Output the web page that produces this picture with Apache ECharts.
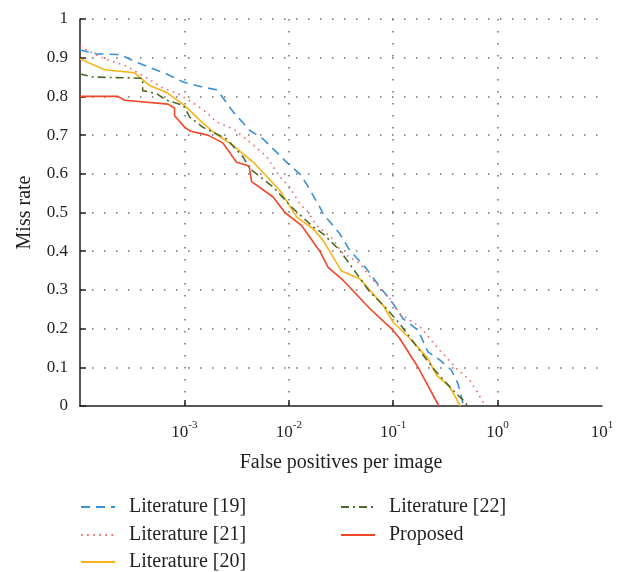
<!DOCTYPE html>
<html>
<head>
<meta charset="utf-8">
<script src="https://cdn.jsdelivr.net/npm/echarts@6/dist/echarts.min.js"></script>
<style>html,body{margin:0;padding:0;background:#fff;}#c{width:624px;height:572px;}</style>
</head>
<body>
<div id="c"></div>
<script>
// Literature [19] (blue dashed)
var lit19X = [1e-4, 1.44e-4, 2.41e-4, 3.49e-4, 6.76e-4, 9.75e-4, 1.5e-3, 2.03e-3, 2.19e-3, 2.93e-3, 4.24e-3, 5.68e-3, 7.62e-3, 9.5e-3, 1.27e-2, 1.48e-2, 1.98e-2, 2.13e-2, 3.08e-2, 3.84e-2, 5.54e-2, 7.43e-2, 9.95e-2, 0.124, 0.173, 0.215, 0.279, 0.36, 0.417, 0.459, 0.468];
var lit19Y = [0.92, 0.91, 0.908, 0.888, 0.858, 0.837, 0.824, 0.817, 0.807, 0.76, 0.712, 0.69, 0.656, 0.63, 0.60, 0.574, 0.514, 0.497, 0.445, 0.402, 0.355, 0.308, 0.265, 0.226, 0.196, 0.14, 0.119, 0.093, 0.058, 0.015, 0];
// Literature [21] (red dotted)
var lit21X = [1e-4, 1.19e-4, 1.72e-4, 2.68e-4, 4.01e-4, 6.0e-4, 8.67e-4, 1.25e-3, 1.62e-3, 2.03e-3, 2.93e-3, 4.24e-3, 6.12e-3, 8.2e-3, 1.02e-2, 1.27e-2, 1.53e-2, 1.84e-2, 2.65e-2, 3.19e-2, 4.78e-2, 6.41e-2, 9.26e-2, 0.115, 0.18, 0.279, 0.417, 0.54, 0.648, 0.76];
var lit21Y = [0.93, 0.918, 0.897, 0.88, 0.854, 0.824, 0.807, 0.781, 0.759, 0.734, 0.716, 0.682, 0.645, 0.592, 0.566, 0.523, 0.501, 0.467, 0.432, 0.398, 0.368, 0.325, 0.278, 0.239, 0.205, 0.144, 0.093, 0.067, 0.033, 0];
// Literature [20] (orange solid)
var lit20X = [1e-4, 1.72e-4, 3.33e-4, 4.64e-4, 6.70e-4, 1.0e-3, 1.41e-3, 1.89e-3, 2.93e-3, 4.73e-3, 8.2e-3, 1.19e-2, 1.71e-2, 2.13e-2, 3.19e-2, 4.78e-2, 6.18e-2, 7.98e-2, 9.95e-2, 0.144, 0.215, 0.259, 0.347, 0.44];
var lit20Y = [0.897, 0.869, 0.861, 0.828, 0.811, 0.777, 0.738, 0.708, 0.673, 0.626, 0.557, 0.488, 0.458, 0.428, 0.349, 0.329, 0.295, 0.261, 0.217, 0.175, 0.123, 0.08, 0.05, 0];
// Literature [22] (green dash-dot)
var lit22X = [1e-4, 1.34e-4, 3.98e-4, 3.98e-4, 5.42e-4, 6.76e-4, 9.75e-4, 1.13e-3, 1.51e-3, 2.54e-3, 3.66e-3, 4.24e-3, 7.08e-3, 1.1e-2, 1.71e-2, 2.13e-2, 3.08e-2, 4.12e-2, 5.96e-2, 8.61e-2, 0.115, 0.193, 0.249, 0.347, 0.483, 0.516];
var lit22Y = [0.858, 0.85, 0.847, 0.815, 0.807, 0.79, 0.777, 0.746, 0.72, 0.69, 0.643, 0.613, 0.566, 0.51, 0.463, 0.445, 0.402, 0.355, 0.295, 0.252, 0.213, 0.132, 0.093, 0.05, 0.011, 0];
// Proposed (red solid)
var propX = [1e-4, 2.31e-4, 2.68e-4, 6.95e-4, 8.05e-4, 8.05e-4, 1.01e-3, 1.15e-3, 1.68e-3, 2.33e-3, 3.16e-3, 4.17e-3, 4.4e-3, 7.08e-3, 9.16e-3, 1.32e-2, 1.98e-2, 2.38e-2, 3.31e-2, 5.96e-2, 9.6e-2, 0.115, 0.173, 0.274];
var propY = [0.80, 0.80, 0.79, 0.78, 0.77, 0.75, 0.72, 0.71, 0.70, 0.68, 0.63, 0.62, 0.58, 0.54, 0.50, 0.467, 0.40, 0.358, 0.325, 0.252, 0.20, 0.175, 0.10, 0];

var yTicks = [0, 0.1, 0.2, 0.3, 0.4, 0.5, 0.6, 0.7, 0.8, 0.9, 1];
var xTickExps = [-3, -2, -1, 0, 1];
var xTickMarks = [1e-3, 1e-2, 1e-1, 1];

var seriesNames = ['Literature [19]', 'Literature [21]', 'Literature [20]', 'Literature [22]', 'Proposed'];

function pairs(xs, ys) { return xs.map(function (x, i) { return [x, ys[i]]; }); }

var FONT = 'Liberation Serif';
var TXT = '#231f20';

var chart = echarts.init(document.getElementById('c'), null, { renderer: 'canvas' });

function mkSeries(name, xs, ys, color, type, width) {
  return {
    name: name, type: 'line', data: pairs(xs, ys), showSymbol: false, symbol: 'none',
    lineStyle: { color: color, width: width, type: type }, itemStyle: { color: color },
    animation: false, z: 3
  };
}

// legend placement: [left, top] per item (two columns)
var legendPos = [[80, 497], [80, 525], [80, 552], [340, 497], [340, 525]];
var legends = seriesNames.map(function (n, i) {
  return {
    left: legendPos[i][0], top: legendPos[i][1], orient: 'vertical',
    itemWidth: 34, itemHeight: 14, itemGap: 0, padding: 0,
    itemStyle: { opacity: 0 },
    textStyle: { fontFamily: FONT, fontSize: 20, color: TXT, lineHeight: 20, padding: [0, 0, 0, 9] },
    selectedMode: false, data: [n]
  };
});

chart.setOption({
  backgroundColor: '#fff',
  animation: false,
  grid: { left: 80, top: 19, right: 22, bottom: 166, containLabel: false },
  legend: legends,
  xAxis: {
    type: 'log', logBase: 10, min: 1e-4, max: 10,
    name: 'False positives per image', nameLocation: 'middle', nameGap: 47,
    nameTextStyle: { fontFamily: FONT, fontSize: 20, color: TXT },
    axisLine: { show: true, lineStyle: { color: '#231f20', width: 1.5 } },
    axisTick: { show: true, inside: true, length: 6, customValues: xTickMarks, lineStyle: { color: '#231f20', width: 1.5 } },
    minorTick: { show: false },
    axisLabel: {
      showMinLabel: false, margin: 14, color: TXT,
      formatter: function (v) {
        var e = Math.round(Math.log10(v));
        if (xTickExps.indexOf(e) < 0) return '';
        return '{a|10}{b|' + e + '}';
      },
      rich: {
        a: { fontFamily: FONT, fontSize: 17, color: TXT },
        b: { fontFamily: FONT, fontSize: 11, color: TXT, padding: [0, 0, 14, 0] }
      }
    },
    splitLine: { show: true, lineStyle: { color: '#6d6d6d', width: 1.5, type: [1.5, 10.5] } }
  },
  yAxis: {
    type: 'value', min: 0, max: 1, interval: 0.1,
    name: 'Miss rate', nameLocation: 'middle', nameGap: 45, nameRotate: 90,
    nameTextStyle: { fontFamily: FONT, fontSize: 20, color: TXT },
    axisLine: { show: true, lineStyle: { color: '#231f20', width: 1.5 } },
    axisTick: { show: true, inside: true, length: 6, lineStyle: { color: '#231f20', width: 1.5 } },
    axisLabel: {
      margin: 12, fontFamily: FONT, fontSize: 17, color: TXT,
      formatter: function (v) { var r = Math.round(v * 10) / 10; return yTicks.indexOf(r) >= 0 ? String(r) : ''; }
    },
    splitLine: { show: true, showMinLine: false, lineStyle: { color: '#6d6d6d', width: 1.5, type: [1.5, 10.5] } }
  },
  series: [
    mkSeries(seriesNames[0], lit19X, lit19Y, '#3a8fd6', [9, 6], 1.6),
    mkSeries(seriesNames[1], lit21X, lit21Y, '#f06868', [1.6, 4.5], 1.6),
    mkSeries(seriesNames[2], lit20X, lit20Y, '#f8b31a', 'solid', 1.6),
    mkSeries(seriesNames[3], lit22X, lit22Y, '#4b6a2a', [8, 4, 2, 4], 1.6),
    mkSeries(seriesNames[4], propX, propY, '#f2472b', 'solid', 1.6)
  ]
});
</script>
</body>
</html>
